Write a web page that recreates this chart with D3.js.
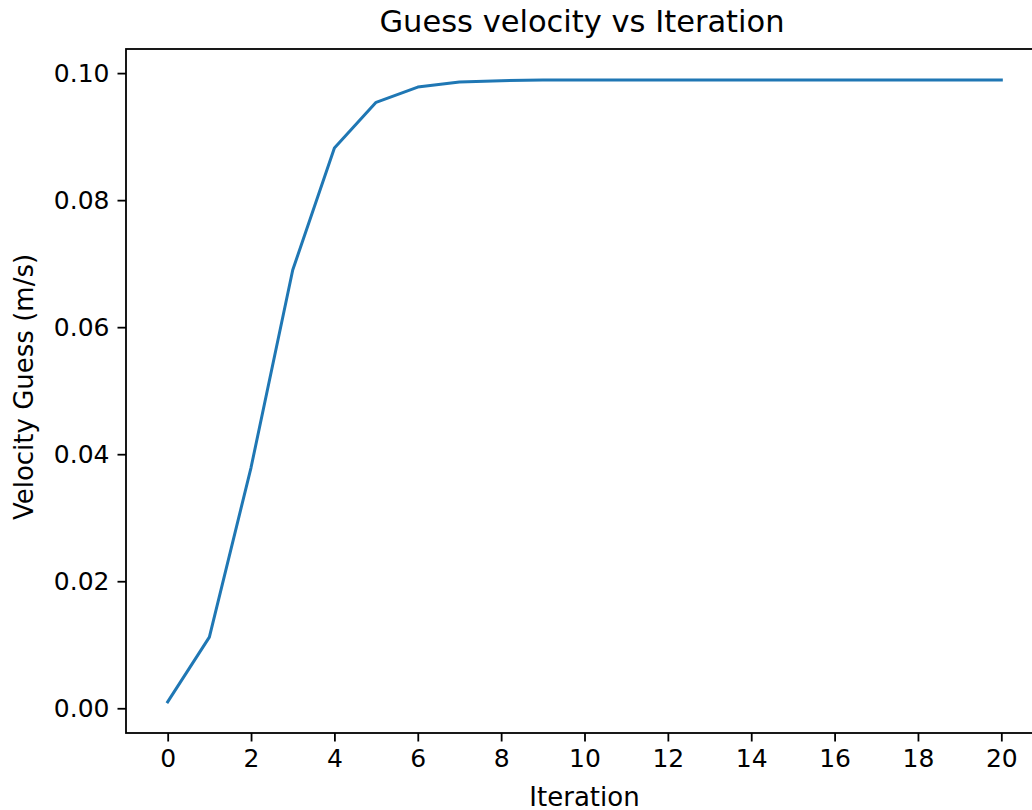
<!DOCTYPE html>
<html>
<head>
<meta charset="utf-8">
<script src="https://cdn.jsdelivr.net/npm/d3@7"></script>
<style>
  body { margin: 0; background: #fff; }
  svg text { font-family: "DejaVu Sans", sans-serif; fill: #000; }
  .axis path, .axis line { stroke: #000; }
</style>
</head>
<body>
<div id="chart"></div>
<script>
const iterations = [0, 1, 2, 3, 4, 5, 6, 7, 8, 9, 10, 11, 12, 13, 14, 15, 16, 17, 18, 19, 20];
const velocity = [0.0010, 0.0112, 0.0379, 0.0690, 0.0882, 0.0954, 0.0978, 0.0986, 0.0988, 0.0989,
  0.0989, 0.0989, 0.0989, 0.0989, 0.0989, 0.0989, 0.0989, 0.0989, 0.0989, 0.0989, 0.0989];
const xTicks = [0, 2, 4, 6, 8, 10, 12, 14, 16, 18, 20];
const yTicks = [0.00, 0.02, 0.04, 0.06, 0.08, 0.10];

function graphIt(){
  const w = 1032;
  const h = 810;
  // axes box, right edge falls past the picture like the reference
  const margin = { top: 49, right: -11, bottom: 77, left: 126 };
  const width = w - margin.left - margin.right;
  const height = h - margin.top - margin.bottom;

  const svg = d3.select('#chart')
  .append('svg')
  .attr('width', w)
  .attr('height', h);
  const g = svg.append('g')
  .attr('transform', 'translate(' + margin.left + ',' + margin.top + ')');

  const yMin = d3.min(velocity), yMax = d3.max(velocity);
  const yPad = (yMax - yMin) * 0.05;
  const x = d3.scaleLinear().domain([-1, 21]).range([0, width]);
  const y = d3.scaleLinear().domain([yMin - yPad, yMax + yPad]).range([height, 0]);

  const xAxis = d3.axisBottom(x).tickValues(xTicks).tickSize(8.5).tickPadding(8)
  .tickFormat(d3.format('d'));
  const gx = g.append('g').attr('class', 'x axis')
  .attr('transform', 'translate(0,' + height + ')')
  .call(xAxis);
  gx.select('.domain').remove();
  gx.selectAll('line').attr('stroke-width', 1.8);
  gx.selectAll('text').style('font-size', '25px');

  const yAxis = d3.axisLeft(y).tickValues(yTicks).tickSize(8.5).tickPadding(8)
  .tickFormat(d3.format('.2f'));
  const gy = g.append('g').attr('class', 'y axis').call(yAxis);
  gy.select('.domain').remove();
  gy.selectAll('line').attr('stroke-width', 1.8);
  gy.selectAll('text').style('font-size', '25px');

  // spines
  g.append('rect')
  .attr('x', 0).attr('y', 0)
  .attr('width', width).attr('height', height)
  .attr('fill', 'none')
  .attr('stroke', '#000')
  .attr('stroke-width', 1.8);

  const line = d3.line()
  .x(function (d, i) { return x(iterations[i]); })
  .y(function (d) { return y(d); });

  g.append('path')
  .attr('d', line(velocity))
  .attr('fill', 'none')
  .attr('stroke', '#1f77b4')
  .attr('stroke-width', 3)
  .attr('stroke-linejoin', 'round')
  .attr('stroke-linecap', 'square');

  svg.append('text')
  .attr('x', 582).attr('y', 32)
  .attr('text-anchor', 'middle')
  .style('font-size', '30.5px')
  .text('Guess velocity vs Iteration');

  svg.append('text')
  .attr('x', margin.left + width / 2).attr('y', 806)
  .attr('text-anchor', 'middle')
  .style('font-size', '26px')
  .text('Iteration');

  svg.append('text')
  .attr('transform', 'translate(33,' + (margin.top + height / 2 - 4) + ') rotate(-90)')
  .attr('text-anchor', 'middle')
  .style('font-size', '26px')
  .text('Velocity Guess (m/s)');
}
graphIt();
</script>
</body>
</html>
